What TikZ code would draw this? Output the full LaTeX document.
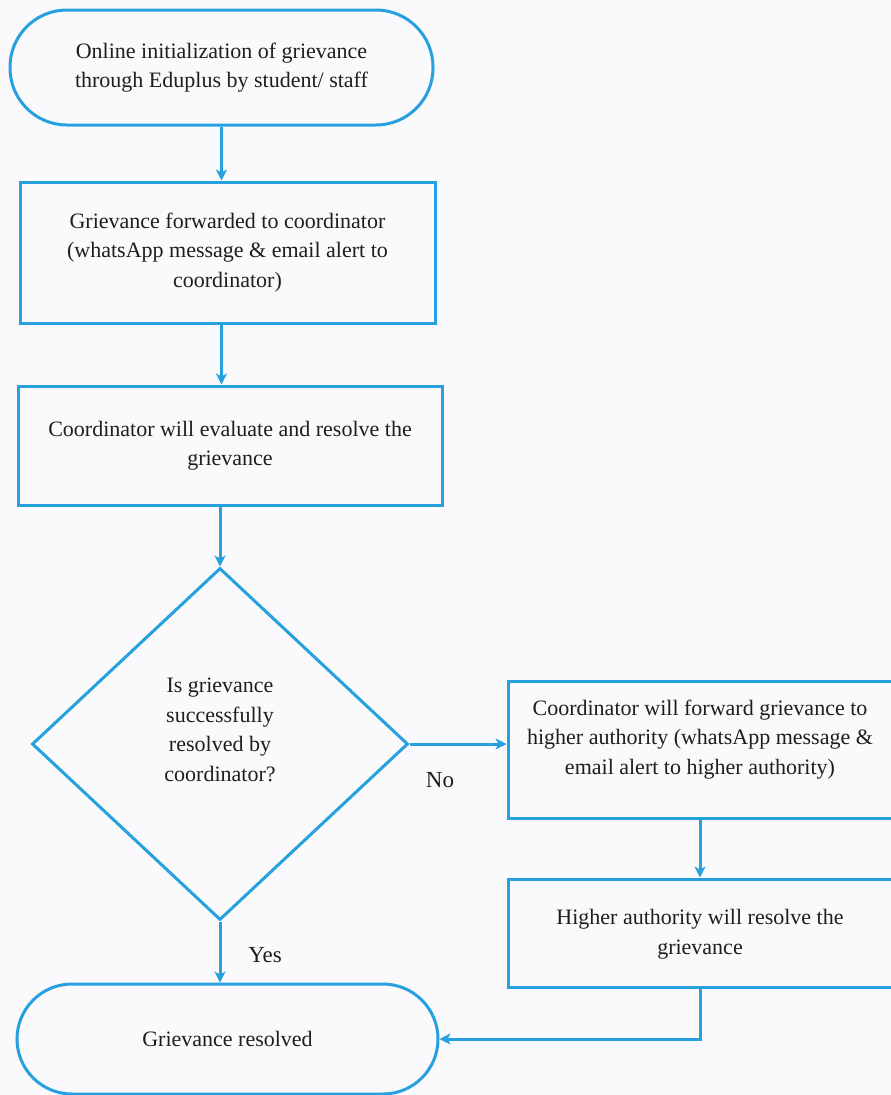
\documentclass[tikz,border=0pt]{standalone}
\usepackage{fontspec}
\setmainfont{Liberation Serif}
\usetikzlibrary{shapes.geometric,arrows.meta}
\definecolor{flow}{RGB}{38,160,222}
\definecolor{paper}{RGB}{250,250,252}
\definecolor{ink}{RGB}{30,30,30}
\begin{document}
\begin{tikzpicture}[x=1pt,y=-1pt,
  font=\fontsize{22}{29.5}\selectfont, text=ink,
  base/.style={draw=flow, line width=3pt, align=center, inner sep=0pt},
  term/.style={base, rectangle, rounded corners=#1},
  procbox/.style={base, rectangle},
  decision/.style={base, diamond},
  lbl/.style={inner sep=0pt, font=\fontsize{23}{28}\selectfont},
  conn/.style={draw=flow, line width=3pt, -{Stealth[length=11pt,width=11pt,inset=3pt]}}]
\useasboundingbox (0,0) rectangle (891,1095);
\fill[paper] (0,0) rectangle (891,1095);

\node[term=57pt, minimum width=423pt, minimum height=115pt] (start) at (221.5,67.5)
  {Online initialization of grievance\\through Eduplus by student/ staff};
\node[procbox, minimum width=415pt, minimum height=141pt] (fwd) at (227.5,252.5)
  {Grievance forwarded to coordinator\\(whatsApp message \& email alert to\\coordinator)};
\node[procbox, minimum width=424pt, minimum height=119pt] (eval) at (230,445.5)
  {Coordinator will evaluate and resolve the\\grievance};
\node[decision, minimum width=376pt, minimum height=352pt] (dec) at (220,744)
  {Is grievance\\successfully\\resolved by\\coordinator?\\[-1pt]\mbox{}};
\node[procbox, minimum width=384pt, minimum height=137pt] (higher) at (700,749.5)
  {Coordinator will forward grievance to\\higher authority (whatsApp message \&\\email alert to higher authority)\\[-4pt]\mbox{}};
\node[procbox, minimum width=384pt, minimum height=108pt] (hres) at (700,933)
  {\mbox{}\\[-12pt]Higher authority will resolve the\\grievance};
\node[term=55pt, minimum width=421pt, minimum height=110pt] (done) at (227.5,1039)
  {Grievance resolved};

\node[lbl] (no) at (440,780) {No};
\node[lbl] (yes) at (265,955) {Yes};

\draw[conn] (start.south) -- (start.south |- fwd.north);
\draw[conn] (fwd.south -| start.south) -- (eval.north -| start.south);
\draw[conn] (eval.south -| dec.north) -- (dec.north);
\draw[conn] (dec.east) -- (dec.east -| higher.west);
\draw[conn] (higher.south) -- (hres.north);
\draw[conn] (hres.south) |- (done.east);
\draw[conn] (dec.south) -- (dec.south |- done.north);
\end{tikzpicture}
\end{document}
